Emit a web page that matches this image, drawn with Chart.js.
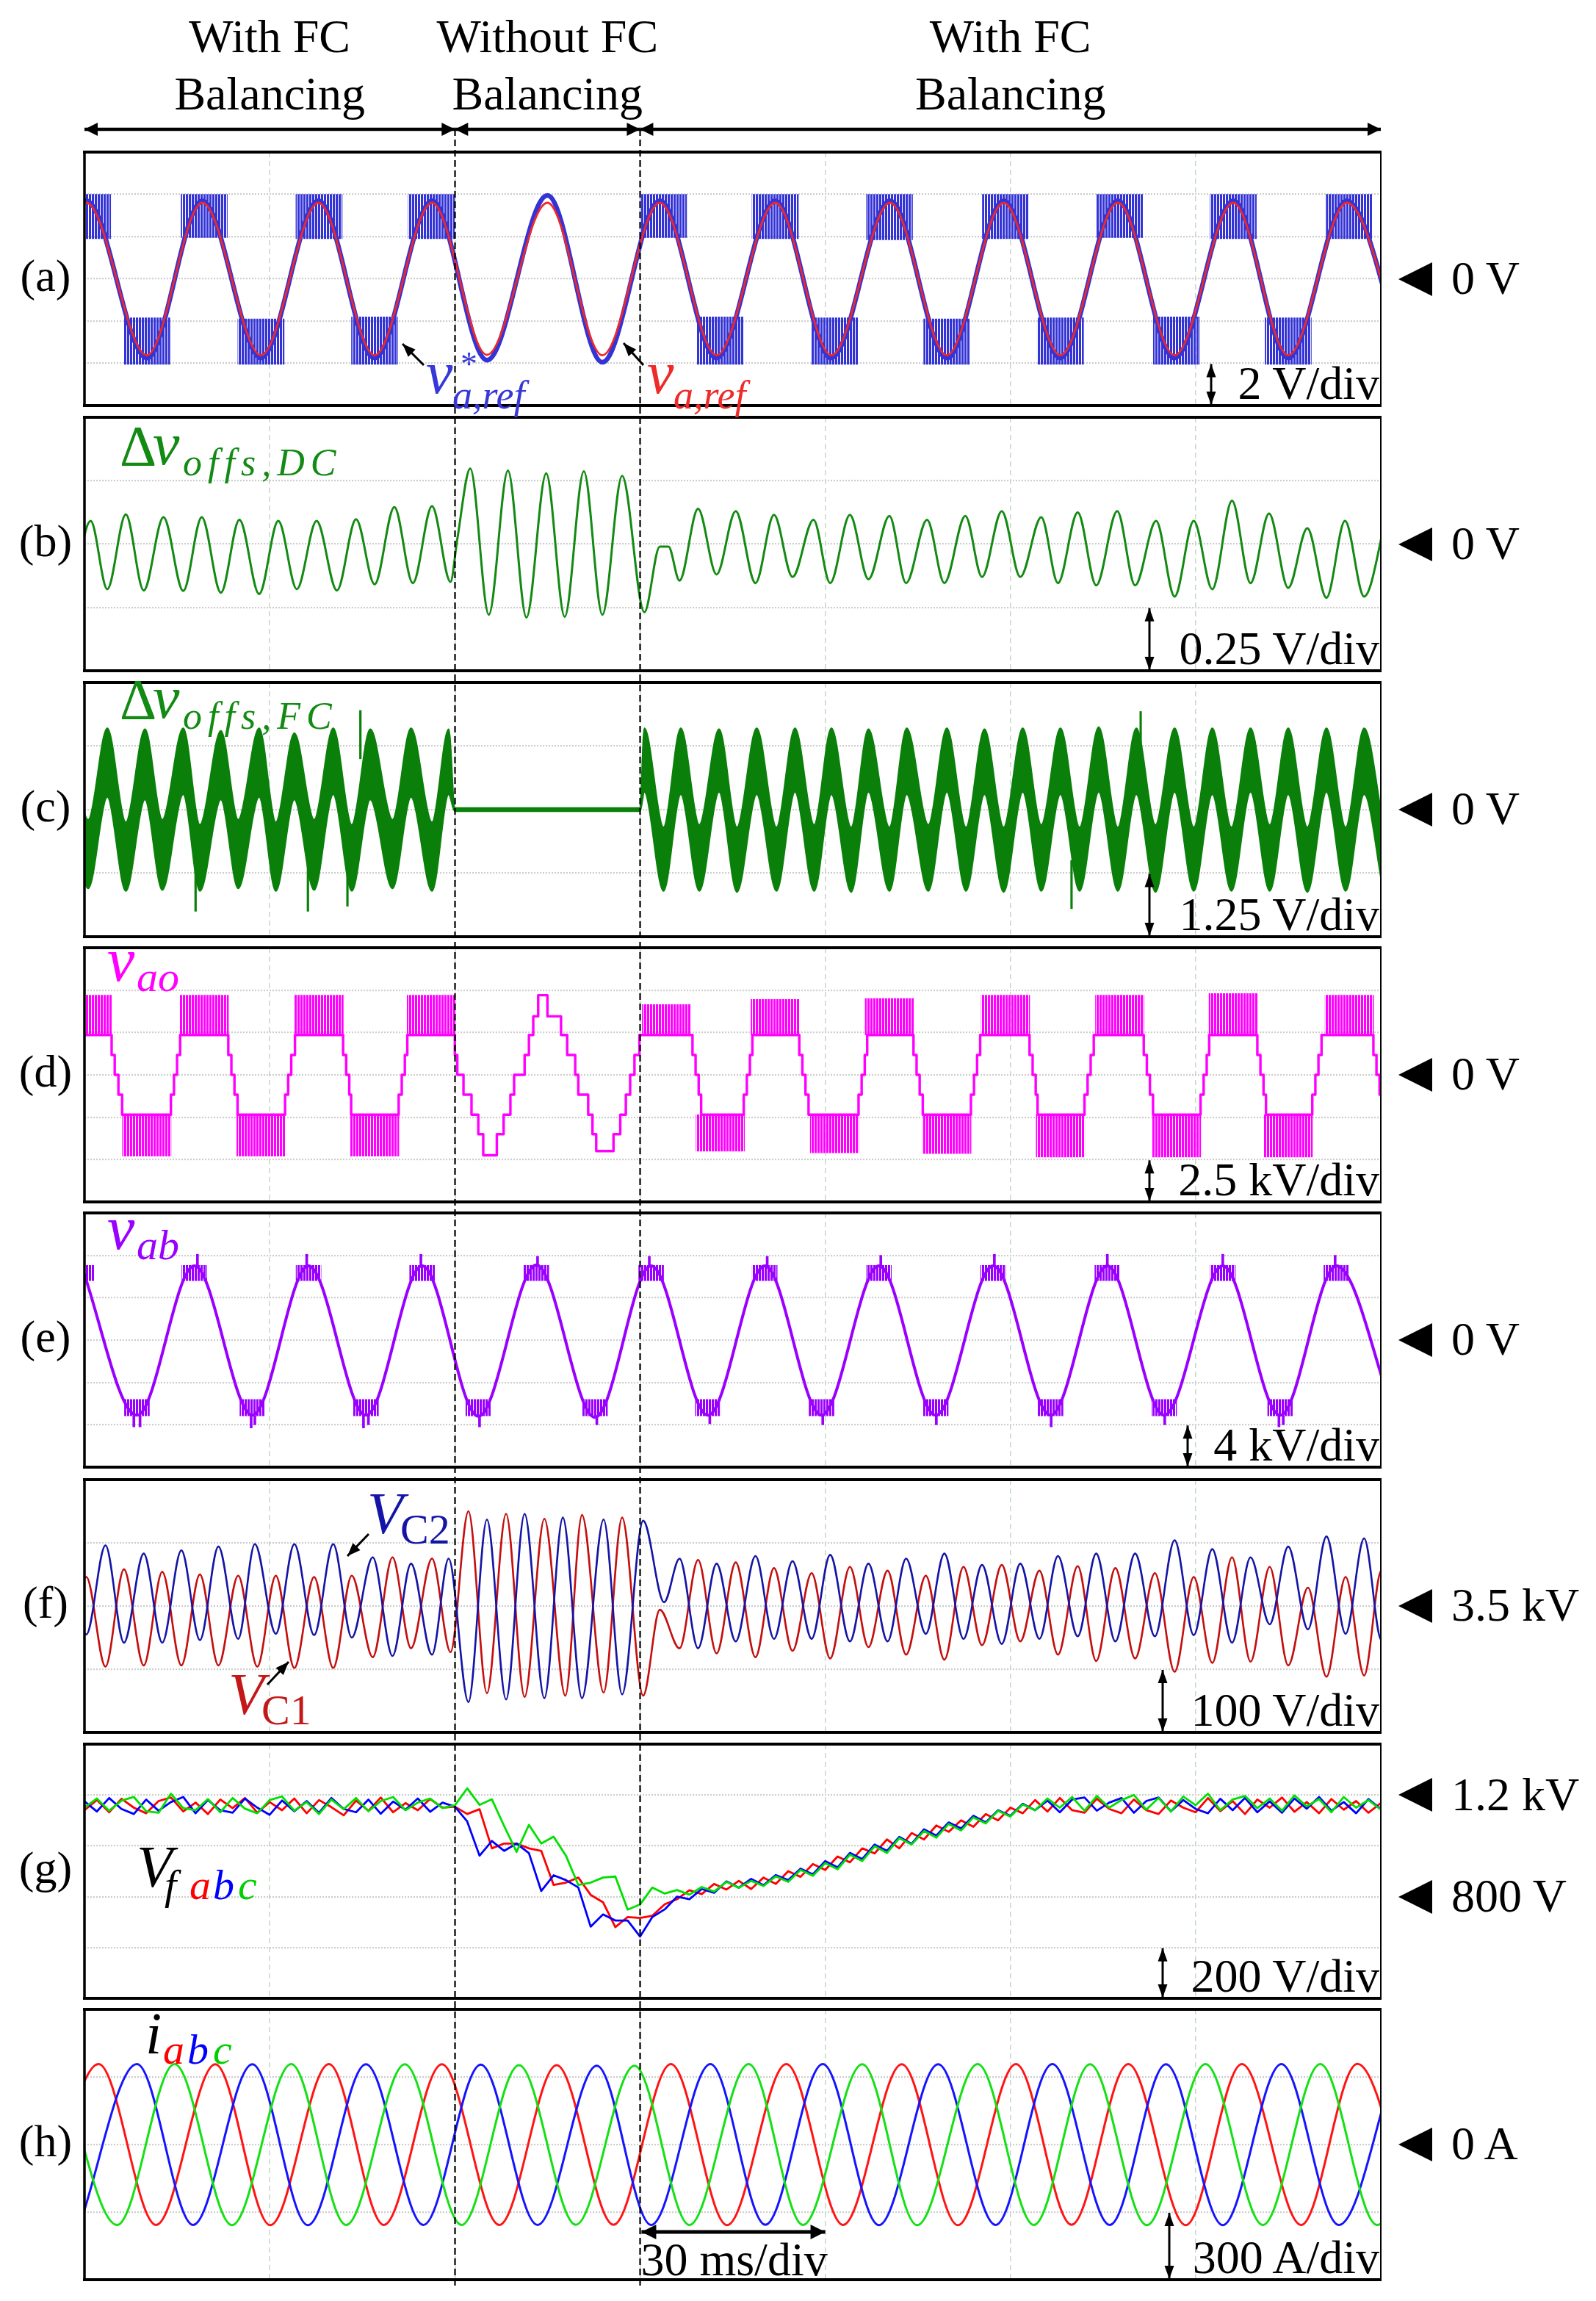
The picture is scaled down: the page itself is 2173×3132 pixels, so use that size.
<!DOCTYPE html>
<html><head><meta charset="utf-8"><title>FC balancing waveforms</title>
<script src="https://cdn.jsdelivr.net/npm/chart.js@4.4.1/dist/chart.umd.min.js"></script>
<style>
html,body{margin:0;padding:0;background:#fff;}
#page{position:relative;width:2173px;height:3132px;overflow:hidden;background:#fff;font-family:"Liberation Serif","Times New Roman",serif;}
#page canvas{position:absolute;}
.t{position:absolute;white-space:nowrap;line-height:1;z-index:6;}
.tri{position:absolute;width:0;height:0;border-right:46px solid #000;border-top:23px solid transparent;border-bottom:23px solid transparent;z-index:6;}
</style></head><body><div id="page"></div>
<script>
// ================= DATA (times in ms, 30 ms/div) =================
const timeRange = [0, 210];
const timeStep = 30;
const modeBounds = [0, 60, 90, 210];
const modeNames = [['With FC', 'Balancing'], ['Without FC', 'Balancing'], ['With FC', 'Balancing']];

// (a) v_a,ref (red) and v*_a,ref (blue) extremes [V]
const aRefT = [-9.0, 0.3, 10.1, 19.1, 28.6, 37.9, 47.0, 56.3, 65.2, 75.0, 83.9, 93.2, 102.4, 111.9, 121.0, 130.5, 139.7, 148.9, 158.1, 167.4, 176.6, 186.1, 195.0, 204.5, 213.8];
const aRefV = [-3.6, 3.6, -3.62, 3.6, -3.62, 3.6, -3.62, 3.6, -3.6, 3.6, -3.62, 3.6, -3.62, 3.6, -3.62, 3.6, -3.62, 3.6, -3.62, 3.6, -3.62, 3.6, -3.62, 3.6, -3.62];
const aStarV = [-3.7, 3.7, -3.75, 3.7, -3.75, 3.7, -3.75, 3.7, -3.85, 3.95, -3.95, 3.7, -3.75, 3.7, -3.75, 3.7, -3.75, 3.7, -3.75, 3.7, -3.75, 3.7, -3.75, 3.7, -3.75];
// switching bands of v*_a,ref
const aBandT = [0.5, 10.1, 19.4, 28.6, 38.0, 47.0, 56.2, 93.8, 103.0, 111.9, 121.5, 130.4, 139.7, 149.2, 158.1, 167.7, 176.9, 186.1, 195.0, 204.9];
const aBandLo = [1.9, -4.05, 1.95, -4.05, 1.9, -4.05, 1.9, 1.95, -4.05, 1.9, -4.05, 1.85, -4.05, 1.9, -4.05, 1.95, -4.05, 1.9, -4.05, 1.9];
const aBandHi = [4.0, -1.85, 4.0, -1.9, 4.0, -1.8, 4.0, 4.0, -1.8, 4.0, -1.85, 4.0, -1.9, 4.0, -1.85, 4.0, -1.8, 4.0, -1.85, 4.0];

// (b) Δv_offs,DC extremes [V]
const bT = [-1.8, 1.0, 3.7, 6.7, 9.6, 12.8, 16.0, 19.0, 22.1, 25.1, 28.3, 31.4, 34.4, 37.6, 40.9, 44.0, 47.0, 50.2, 53.2, 56.3, 59.3, 60.4, 62.5, 65.5, 68.6, 71.6, 74.8, 77.8, 80.9, 83.9, 87.1, 90.7, 93.2, 94.6, 96.4, 99.4, 102.4, 105.5, 108.7, 111.7, 114.7, 118.1, 120.8, 124.0, 127.0, 130.4, 133.1, 136.5, 139.3, 142.7, 145.4, 148.6, 151.6, 155.0, 157.7, 160.9, 163.9, 167.3, 170.2, 173.6, 176.6, 179.7, 182.7, 185.9, 188.9, 191.9, 195.0, 198.1, 201.2, 204.2, 207.3, 211.0];
const bV = [-0.17, 0.091, -0.178, 0.117, -0.183, 0.106, -0.185, 0.106, -0.192, 0.096, -0.197, 0.091, -0.178, 0.091, -0.183, 0.098, -0.159, 0.146, -0.154, 0.149, -0.149, 0.02, 0.298, -0.279, 0.290, -0.290, 0.279, -0.287, 0.287, -0.279, 0.269, -0.269, -0.01, -0.01, -0.144, 0.139, -0.120, 0.130, -0.154, 0.115, -0.130, 0.096, -0.154, 0.115, -0.139, 0.111, -0.154, 0.096, -0.154, 0.111, -0.130, 0.130, -0.130, 0.106, -0.154, 0.125, -0.163, 0.130, -0.163, 0.091, -0.207, 0.091, -0.178, 0.171, -0.154, 0.120, -0.173, 0.062, -0.212, 0.091, -0.207, 0.12];

// (c) Δv_offs,FC envelope (upper / lower edge of the switching band) [V]
const cT = [-2.4, 0.6, 3.7, 6.7, 9.8, 12.6, 16.0, 18.7, 22.1, 24.9, 28.3, 31.0, 34.0, 37.2, 40.3, 43.3, 46.3, 49.9, 52.9, 56.3, 59.0, 60.0, 90.0, 90.7, 93.8, 96.6, 99.6, 102.8, 105.7, 108.9, 112.1, 115.1, 118.2, 121.0, 124.2, 127.0, 130.4, 133.2, 136.7, 139.7, 142.8, 145.8, 148.9, 152.0, 155.0, 158.1, 161.2, 164.3, 167.4, 170.4, 173.5, 176.6, 179.7, 182.7, 185.8, 188.9, 192.0, 195.0, 198.1, 201.2, 204.3, 207.3, 210.4];
const cUpper = [1.55, -0.2, 1.6, -0.25, 1.58, -0.2, 1.6, -0.3, 1.55, -0.2, 1.6, -0.25, 1.5, -0.2, 1.6, -0.3, 1.58, -0.2, 1.6, -0.25, 1.58,
  0.03, 0.03,
  1.6, -0.35, 1.6, -0.3, 1.58, -0.35, 1.6, -0.35, 1.6, -0.3, 1.6, -0.35, 1.58, -0.35, 1.6, -0.3, 1.6, -0.35, 1.58, -0.35, 1.6, -0.3, 1.6, -0.35, 1.62, -0.35, 1.6, -0.3, 1.6, -0.35, 1.6, -0.35, 1.6, -0.3, 1.6, -0.35, 1.6, -0.35, 1.6, -0.3];
const cLower = [0.2, -1.55, 0.25, -1.6, 0.2, -1.58, 0.3, -1.6, 0.2, -1.55, 0.25, -1.6, 0.2, -1.58, 0.3, -1.6, 0.2, -1.55, 0.25, -1.6, 0.3,
  -0.03, -0.03,
  0.35, -1.6, 0.3, -1.6, 0.35, -1.62, 0.3, -1.6, 0.35, -1.6, 0.3, -1.62, 0.35, -1.6, 0.3, -1.6, 0.35, -1.6, 0.3, -1.62, 0.35, -1.6, 0.3, -1.6, 0.35, -1.6, 0.3, -1.62, 0.35, -1.6, 0.3, -1.6, 0.35, -1.6, 0.3, -1.62, 0.35, -1.6, 0.3, -1.6];
const cSpikeT = [18.0, 36.2, 42.6, 44.7, 159.9, 171.1];
const cSpikeLo = [-2.0, -2.0, -1.9, 1.0, -1.95, 1.0];
const cSpikeHi = [-1.0, -1.0, -1.0, 1.95, -1.0, 1.93];

// (d) v_ao level sequence [kV] (stepped) and dense switching bands
const dT = [0, 4.4, 4.9, 5.5, 6.1, 14.0, 14.5, 15.0, 15.5, 23.3, 23.8, 24.3, 24.8, 32.5, 33.0, 33.5, 34.1, 41.9, 42.4, 42.9, 43.2, 50.9, 51.4, 51.9, 52.3,
  60.0, 60.4, 61.4, 62.7, 63.8, 64.6, 66.8, 67.9, 69.0, 69.6, 71.3, 72.0, 72.7, 73.5, 75.0, 77.2, 78.2, 79.5, 80.0, 81.6, 82.3, 82.9, 85.7, 86.8, 87.7, 88.4, 89.1, 89.9,
  98.5, 99.0, 99.5, 99.9, 106.8, 107.3, 107.8, 108.2, 115.8, 116.3, 116.8, 117.3, 125.4, 125.9, 126.4, 126.8, 134.3, 134.8, 135.3, 135.8, 143.6, 144.1, 144.6, 145.1,
  153.1, 153.6, 154.1, 154.4, 162.0, 162.5, 163.0, 163.5, 171.6, 172.1, 172.6, 173.1, 180.8, 181.3, 181.8, 182.2, 190.0, 190.5, 191.0, 191.4, 198.9, 199.4, 199.9, 200.4, 208.8, 209.3, 209.8, 210.3];
const dV = [2.35, 1.17, 0, -1.17, -2.35, -1.17, 0, 1.17, 2.35, 1.17, 0, -1.17, -2.35, -1.17, 0, 1.17, 2.35, 1.17, 0, -1.17, -2.35, -1.17, 0, 1.17, 2.35,
  1.17, 0, -1.17, -2.35, -3.5, -4.75, -3.5, -2.35, -1.17, 0, 1.17, 2.35, 3.45, 4.7, 3.45, 2.35, 1.17, 0, -1.17, -2.35, -3.5, -4.5, -3.5, -2.35, -1.17, 0, 1.17, 2.35,
  1.17, 0, -1.17, -2.35, -1.17, 0, 1.17, 2.35, 1.17, 0, -1.17, -2.35, -1.17, 0, 1.17, 2.35, 1.17, 0, -1.17, -2.35, -1.17, 0, 1.17, 2.35,
  1.17, 0, -1.17, -2.35, -1.17, 0, 1.17, 2.35, 1.17, 0, -1.17, -2.35, -1.17, 0, 1.17, 2.35, 1.17, 0, -1.17, -2.35, -1.17, 0, 1.17, 2.35, 1.17, 0, -1.17, -2.35];
const dBandT = [0.5, 10.1, 19.4, 28.6, 38.0, 47.0, 56.2, 94.3, 103.0, 111.9, 121.5, 130.4, 139.7, 149.2, 158.1, 167.7, 176.9, 186.1, 195.0, 204.9];
const dBandLo = [2.35, -4.8, 2.35, -4.8, 2.35, -4.8, 2.35, 2.35, -4.5, 2.35, -4.6, 2.35, -4.65, 2.35, -4.85, 2.35, -4.85, 2.35, -4.85, 2.35];
const dBandHi = [4.7, -2.35, 4.7, -2.35, 4.7, -2.35, 4.7, 4.15, -2.35, 4.45, -2.35, 4.5, -2.35, 4.7, -2.35, 4.7, -2.35, 4.8, -2.35, 4.7];

// (e) v_ab extremes [kV], plateau switching and spikes
const eT = [-0.5, 8.5, 17.8, 27.2, 36.3, 45.6, 54.7, 63.8, 73.2, 82.7, 91.8, 101.0, 110.2, 119.4, 128.7, 137.9, 147.2, 156.5, 165.7, 174.9, 184.4, 193.7, 202.8, 212.2];
const eV = [7.0, -7.1, 7.0, -7.1, 7.0, -7.1, 7.0, -7.2, 7.1, -7.3, 7.0, -7.1, 7.0, -7.1, 7.0, -7.1, 7.0, -7.1, 7.0, -7.1, 7.0, -7.1, 7.0, -7.1];
const eBandT = [-0.5, 8.5, 17.8, 27.2, 36.3, 45.6, 54.7, 63.8, 73.2, 82.7, 91.8, 101.0, 110.2, 119.4, 128.7, 137.9, 147.2, 156.5, 165.7, 174.9, 184.4, 193.7, 202.8];
const eBandLo = [5.6, -7.15, 5.6, -7.15, 5.6, -7.15, 5.6, -7.15, 5.6, -7.15, 5.6, -7.15, 5.6, -7.15, 5.6, -7.15, 5.6, -7.15, 5.6, -7.15, 5.6, -7.15, 5.6];
const eBandHi = [7.05, -5.6, 7.05, -5.6, 7.05, -5.6, 7.05, -5.6, 7.05, -5.6, 7.05, -5.6, 7.05, -5.6, 7.05, -5.6, 7.05, -5.6, 7.05, -5.6, 7.05, -5.6, 7.05];
const eSpikeT = [8.0, 9.0, 18.3, 27.0, 27.6, 36.0, 45.2, 46.0, 54.5, 64.0, 73.4, 83.0, 91.5, 101.3, 110.6, 119.6, 129.0, 138.0, 147.4, 156.6, 165.7, 175.0, 184.4, 193.5, 194.2, 202.6];
const eSpikeLo = [-8.2, -8.2, 7.05, -8.3, -8.0, 7.05, -8.3, -8.0, 7.05, -8.2, 7.05, -8.0, 7.05, -7.9, 7.05, -8.0, 7.05, -8.0, 7.05, -8.2, 7.05, -8.0, 7.05, -8.2, -8.0, 7.05];
const eSpikeHi = [-7.15, -7.15, 8.1, -7.15, -7.15, 8.1, -7.15, -7.15, 8.1, -7.15, 7.9, -7.15, 7.9, -7.15, 7.9, -7.15, 8.0, -7.15, 8.1, -7.15, 8.1, -7.15, 8.1, -7.15, -7.15, 8.0];

// (f) V_C1 (red) and V_C2 (blue) extremes [V]
const c2T = [-2.8, 0.3, 3.4, 6.4, 9.6, 12.6, 15.7, 18.7, 21.7, 24.9, 27.6, 31.0, 34.0, 37.2, 40.3, 43.3, 46.7, 49.9, 52.9, 56.3, 59.0, 62.2, 65.2, 68.3, 71.3, 74.5, 77.5, 80.6, 84.1, 87.1, 90.5, 93.9, 96.4, 99.4, 102.4, 105.5, 108.7, 111.7, 114.7, 117.8, 120.8, 124.0, 127.0, 130.1, 133.1, 136.3, 139.3, 142.4, 145.4, 148.6, 151.6, 154.7, 157.7, 160.9, 163.9, 167.0, 170.2, 173.4, 176.6, 179.7, 182.7, 185.9, 188.9, 192.0, 195.0, 198.2, 201.2, 204.3, 207.3, 210.1, 213.2];
const c2V = [3590, 3455, 3596, 3442, 3583, 3442, 3588, 3446, 3594, 3448, 3598, 3456, 3598, 3454, 3598, 3450, 3577, 3421, 3567, 3423, 3575, 3348, 3637, 3352, 3646, 3354, 3640, 3354, 3637, 3360, 3635, 3506, 3575, 3433, 3567, 3444, 3579, 3448, 3571, 3448, 3581, 3444, 3567, 3444, 3575, 3456, 3583, 3448, 3565, 3440, 3567, 3448, 3579, 3452, 3583, 3444, 3583, 3452, 3604, 3454, 3590, 3442, 3577, 3471, 3594, 3463, 3610, 3456, 3607, 3446, 3600];
const c1T = [-2.8, 0.3, 3.4, 6.4, 9.6, 12.6, 15.7, 18.7, 21.7, 24.9, 28.0, 31.0, 34.0, 37.2, 40.3, 43.3, 46.7, 49.9, 52.9, 56.3, 59.3, 62.2, 65.2, 68.3, 71.3, 74.5, 77.9, 80.6, 84.1, 87.1, 90.5, 93.2, 96.4, 99.4, 102.4, 105.5, 108.7, 111.7, 114.7, 117.8, 120.8, 124.0, 127.0, 130.1, 133.1, 136.3, 139.3, 142.4, 145.4, 148.6, 151.6, 154.7, 157.7, 160.9, 163.9, 167.0, 170.2, 173.4, 176.6, 179.7, 182.7, 185.9, 188.9, 192.0, 195.0, 198.2, 201.2, 204.3, 207.3, 210.1, 213.2];
const c1V = [3410, 3546, 3404, 3558, 3406, 3554, 3406, 3550, 3406, 3548, 3404, 3548, 3402, 3546, 3402, 3548, 3419, 3577, 3433, 3575, 3427, 3650, 3362, 3646, 3356, 3638, 3358, 3644, 3363, 3640, 3358, 3494, 3433, 3573, 3425, 3569, 3419, 3560, 3429, 3552, 3417, 3562, 3435, 3556, 3423, 3548, 3415, 3562, 3438, 3565, 3444, 3556, 3423, 3563, 3413, 3560, 3417, 3552, 3396, 3546, 3410, 3577, 3412, 3562, 3406, 3529, 3388, 3546, 3390, 3556, 3400];

// (g) V_f a/b/c sampled every 2 ms [V]
const gT = [0,2,4,6,8,10,12,14,16,18,20,22,24,26,28,30,32,34,36,38,40,42,44,46,48,50,52,54,56,58,60,62,64,66,68,70,72,74,76,78,80,82,84,86,88,90,92,94,96,98,100,102,104,106,108,110,112,114,116,118,120,122,124,126,128,130,132,134,136,138,140,142,144,146,148,150,152,154,156,158,160,162,164,166,168,170,172,174,176,178,180,182,184,186,188,190,192,194,196,198,200,202,204,206,208,210];
const gA = [1140, 1180, 1132, 1185, 1150, 1128, 1176, 1190, 1135, 1170, 1125, 1182, 1148, 1188, 1130, 1172, 1140, 1186, 1128, 1180, 1152, 1120, 1178, 1138, 1190, 1132, 1168, 1140, 1184, 1150,
  1154, 1125, 1144, 990, 1009, 1009, 990, 980, 846, 855, 875, 807, 778, 680, 720, 716,
  725, 770, 790, 825, 810, 850, 828, 862, 830, 875, 850, 900, 878, 928, 905, 958, 935, 990, 970, 1025, 990, 1050, 1025, 1080, 1055, 1100, 1075, 1125, 1100, 1150,
  1128, 1180, 1135, 1188, 1140, 1130, 1185, 1145, 1128, 1182, 1140, 1125, 1178, 1150, 1132, 1188, 1136, 1176, 1125, 1182, 1150, 1190, 1134, 1172, 1128, 1184, 1142, 1176, 1130, 1168];
const gB = [1175, 1135, 1188, 1145, 1125, 1182, 1138, 1172, 1192, 1128, 1180, 1140, 1130, 1186, 1150, 1122, 1178, 1136, 1176, 1130, 1188, 1145, 1132, 1182, 1126, 1174, 1142, 1186, 1134, 1170,
  1154, 1096, 961, 1019, 980, 1009, 971, 822, 884, 865, 836, 682, 730, 706, 706, 643,
  720, 750, 800, 790, 830, 815, 860, 835, 870, 845, 885, 865, 910, 888, 940, 915, 972, 948, 1005, 980, 1035, 1008, 1065, 1040, 1092, 1068, 1118, 1092, 1140, 1118,
  1165, 1140, 1178, 1132, 1182, 1190, 1138, 1170, 1188, 1130, 1176, 1190, 1136, 1180, 1145, 1128, 1185, 1140, 1188, 1132, 1175, 1130, 1186, 1146, 1192, 1138, 1172, 1128, 1184, 1145];
const gC = [1150, 1186, 1138, 1178, 1192, 1136, 1130, 1205, 1148, 1140, 1184, 1132, 1188, 1146, 1128, 1180, 1194, 1138, 1172, 1125, 1182, 1144, 1188, 1136, 1176, 1192, 1140, 1170, 1186, 1148,
  1159, 1226, 1161, 1183, 1077, 976, 1082, 1009, 1036, 961, 846, 855, 875, 879, 749, 769,
  836, 812, 826, 808, 838, 820, 858, 835, 862, 842, 880, 858, 905, 882, 932, 908, 965, 940, 998, 972, 1030, 1005, 1058, 1032, 1086, 1060, 1112, 1088, 1138, 1115,
  1162, 1140, 1186, 1150, 1192, 1138, 1196, 1150, 1180, 1200, 1142, 1188, 1135, 1194, 1160, 1205, 1140, 1182, 1196, 1148, 1186, 1138, 1198, 1155, 1184, 1132, 1192, 1150, 1180, 1142];

// (h) i_a, i_b, i_c extremes [A]
const hAT = [-7.0, 2.3, 11.6, 21.2, 30.1, 39.6, 48.5, 57.9, 67.2, 76.5, 85.7, 95.0, 104.1, 113.7, 122.9, 132.4, 141.5, 150.9, 159.9, 169.1, 178.4, 187.5, 197.1, 206.2, 215.5];
const hAV = [-357, 357, -357, 356, -358, 357, -357, 356, -357, 352, -356, 357, -358, 357, -357, 356, -358, 357, -356, 357, -358, 357, -357, 358, -357];
const hBT = [-0.8, 8.5, 17.6, 27.2, 36.2, 45.6, 54.9, 64.2, 73.4, 83.0, 91.8, 101.4, 110.3, 119.6, 128.7, 138.3, 147.6, 156.8, 166.1, 175.2, 184.4, 193.9, 203.2, 212.4];
const hBV = [-357, 357, -357, 356, -358, 356, -357, 355, -357, 350, -357, 357, -356, 357, -358, 356, -357, 357, -357, 356, -358, 357, -357, 357];
const hCT = [-4.0, 5.3, 14.6, 23.9, 33.5, 42.4, 51.9, 61.1, 70.4, 79.6, 89.1, 98.0, 107.6, 116.4, 126.0, 134.9, 144.7, 153.8, 162.9, 172.1, 181.6, 190.9, 200.2, 209.4, 218.7];
const hCV = [357, -357, 357, -358, 357, -357, 356, -357, 352, -356, 350, -357, 357, -357, 356, -358, 357, -357, 356, -358, 357, -357, 357, -357, 357];

// vertical scales [min, max, per division] and marker levels
const yScales = { a:[-6, 6, 2], b:[-0.5, 0.5, 0.25], c:[-2.5, 2.5, 1.25], d:[-7.5, 7.5, 2.5], e:[-12, 12, 4], f:[3300, 3700, 100], g:[400, 1400, 200], h:[-600, 600, 300] };
const divLabels = { a:'2 V/div', b:'0.25 V/div', c:'1.25 V/div', d:'2.5 kV/div', e:'4 kV/div', f:'100 V/div', g:'200 V/div', h:'300 A/div' };
const markerPanels = ['a', 'b', 'c', 'd', 'e', 'f', 'g', 'g', 'h'];
const markerValues = [0, 0, 0, 0, 0, 3500, 1200, 800, 0];
const markerTexts = ['0 V', '0 V', '0 V', '0 V', '0 V', '3.5 kV', '1.2 kV', '800 V', '0 A'];
const panelNames = ['(a)', '(b)', '(c)', '(d)', '(e)', '(f)', '(g)', '(h)'];

// ================= LAYOUT / STYLE =================
const page = document.getElementById('page');
const PANEL_LEFT = 115, PANEL_W = 1765, PAD = 6;
const layout = { a:{top:207,h:345}, b:{top:568,h:345}, c:{top:929,h:346}, d:{top:1290,h:346}, e:{top:1651,h:346}, f:{top:2014,h:344}, g:{top:2374,h:346}, h:{top:2735,h:368} };
const divArrowX = { a:1649, b:1565, c:1565, d:1565, e:1617, f:1583, g:1583, h:1592 };

const pts = (ts, vs) => ts.map((t, i) => ({x: t, y: vs[i]}));
const rng = (ts, lo, hi) => ts.map((t, i) => ({x: t, y: [lo[i], hi[i]]}));

function stripes(fg, period, gap) {
  const c = document.createElement('canvas'); c.width = period; c.height = 4;
  const g = c.getContext('2d'); g.fillStyle = fg; g.fillRect(0, 0, period - gap, 4);
  return document.createElement('canvas').getContext('2d').createPattern(c, 'repeat');
}
function line(data, color, width, extra) {
  return Object.assign({type:'line', data, borderColor:color, borderWidth:width, pointRadius:0, fill:false,
    cubicInterpolationMode:'monotone', capBezierPoints:false, clip:0, borderJoinStyle:'round'}, extra || {});
}
function bar(data, fill, thickness, extra) {
  return Object.assign({type:'bar', data, backgroundColor:fill, borderWidth:0, barThickness:thickness, stack:'s', clip:0}, extra || {});
}

const framePlugin = {
  id:'frame',
  afterDatasetsDraw(chart) {
    const {ctx, chartArea:a} = chart;
    ctx.save(); ctx.strokeStyle = '#000';
    ctx.lineWidth = 4; ctx.beginPath();
    ctx.moveTo(a.left - 2, a.top); ctx.lineTo(a.right + 1, a.top);
    ctx.moveTo(a.left - 2, a.bottom); ctx.lineTo(a.right + 1, a.bottom); ctx.stroke();
    ctx.lineWidth = 3.5; ctx.beginPath(); ctx.moveTo(a.left, a.top); ctx.lineTo(a.left, a.bottom); ctx.stroke();
    ctx.lineWidth = 2; ctx.beginPath(); ctx.moveTo(a.right, a.top); ctx.lineTo(a.right, a.bottom); ctx.stroke();
    ctx.restore();
  }
};

const charts = {};
function makeChart(key, datasets) {
  const L = layout[key], ys = yScales[key];
  const cv = document.createElement('canvas');
  cv.width = PANEL_W + 2 * PAD; cv.height = L.h + 2 * PAD;
  cv.style.left = (PANEL_LEFT - PAD) + 'px'; cv.style.top = (L.top - PAD) + 'px';
  cv.style.width = cv.width + 'px'; cv.style.height = cv.height + 'px';
  page.appendChild(cv);
  charts[key] = new Chart(cv.getContext('2d'), {
    type:'line',
    data:{datasets},
    options:{
      responsive:false, animation:false, devicePixelRatio:1, events:[],
      layout:{padding:PAD},
      plugins:{legend:{display:false}, tooltip:{enabled:false}},
      scales:{
        x:{type:'linear', min:timeRange[0], max:timeRange[1], offset:false,
           ticks:{display:false, stepSize:timeStep}, grid:{drawTicks:false, color:'#c5d9c5', lineWidth:1.5, offset:false},
           border:{display:false, dash:[7, 5]}},
        y:{type:'linear', min:ys[0], max:ys[1], stacked:false,
           ticks:{display:false, stepSize:ys[2]}, grid:{drawTicks:false, color:'#cdcdcd', lineWidth:2.2},
           border:{display:false, dash:[2, 2]}}
      }
    },
    plugins:[framePlugin]
  });
}

// ================= CHARTS =================
makeChart('a', [
  line(pts(aRefT, aRefV), '#f02828', 2.8, {order:1}),
  line(pts(aRefT, aStarV), '#3434d6', 6.5, {order:2}),
  bar(rng(aBandT, aBandLo, aBandHi), stripes('#3434d6', 4, 1), 63, {order:3})
]);
makeChart('b', [ line(pts(bT, bV), '#148a14', 3) ]);
makeChart('c', [
  line(pts(cT, cUpper), '#0a800a', 2.2, {order:2}),
  line(pts(cT, cLower), '#0a800a', 2.2, {order:1, fill:'-1', backgroundColor:'#0a800a'}),
  bar(rng(cSpikeT, cSpikeLo, cSpikeHi), '#0a800a', 2.5, {order:3})
]);
makeChart('d', [
  line(pts(dT, dV), '#ff00ff', 3.4, {order:1, stepped:true, cubicInterpolationMode:'default'}),
  bar(rng(dBandT, dBandLo, dBandHi), stripes('#ff00ff', 4, 1), 66, {order:2})
]);
makeChart('e', [
  line(pts(eT, eV), '#9a00ff', 4, {order:1}),
  bar(rng(eBandT, eBandLo, eBandHi), stripes('#9a00ff', 4, 1), 34, {order:2}),
  bar(rng(eSpikeT, eSpikeLo, eSpikeHi), '#9a00ff', 3, {order:3})
]);
makeChart('f', [
  line(pts(c1T, c1V), '#c40f0f', 2.6, {order:2}),
  line(pts(c2T, c2V), '#1414a6', 2.6, {order:1})
]);
makeChart('g', [
  line(pts(gT, gA), '#ff0000', 2.8, {order:3, cubicInterpolationMode:'default', tension:0}),
  line(pts(gT, gB), '#0000ff', 2.8, {order:2, cubicInterpolationMode:'default', tension:0}),
  line(pts(gT, gC), '#00e000', 2.8, {order:1, cubicInterpolationMode:'default', tension:0})
]);
makeChart('h', [
  line(pts(hAT, hAV), '#ff1414', 3, {order:3}),
  line(pts(hBT, hBV), '#1414ff', 3, {order:2}),
  line(pts(hCT, hCV), '#14e014', 3, {order:1})
]);

// ================= OVERLAY (arrows, mode lines) =================
const px = (key, t) => (PANEL_LEFT - PAD) + charts[key].scales.x.getPixelForValue(t);
const py = (key, v) => (layout[key].top - PAD) + charts[key].scales.y.getPixelForValue(v);

const ov = document.createElement('canvas');
ov.width = 2173; ov.height = 3132; ov.style.left = '0px'; ov.style.top = '0px'; ov.style.zIndex = 5;
page.appendChild(ov);
const g = ov.getContext('2d');
g.fillStyle = '#000'; g.strokeStyle = '#000';

function head(x1, y1, x2, y2, len, half) {
  const a = Math.atan2(y2 - y1, x2 - x1), c = Math.cos(a), s = Math.sin(a);
  g.beginPath(); g.moveTo(x2, y2);
  g.lineTo(x2 - len * c + half * s, y2 - len * s - half * c);
  g.lineTo(x2 - len * c - half * s, y2 - len * s + half * c);
  g.closePath(); g.fill();
}
function arrow(x1, y1, x2, y2, w, len, half, both) {
  g.lineWidth = w; g.beginPath(); g.moveTo(x1, y1); g.lineTo(x2, y2); g.stroke();
  head(x1, y1, x2, y2, len, half);
  if (both) head(x2, y2, x1, y1, len, half);
}

const HEAD_Y = 176;
for (let i = 0; i < 3; i++) arrow(px('a', modeBounds[i]), HEAD_Y, px('a', modeBounds[i + 1]), HEAD_Y, 4.5, 18, 9, true);
g.save(); g.lineWidth = 2.2; g.setLineDash([9, 5]);
[modeBounds[1], modeBounds[2]].forEach(t => { const x = Math.round(px('a', t)) + 0.5; g.beginPath(); g.moveTo(x, HEAD_Y); g.lineTo(x, 3112); g.stroke(); });
g.restore();
Object.keys(yScales).forEach(k => {
  const ys = yScales[k];
  arrow(divArrowX[k], py(k, ys[0] + ys[2]) + 1, divArrowX[k], py(k, ys[0]) - 1, 3, 18, 6.5, true);
});
arrow(px('h', 90) + 2, 3038, px('h', 120), 3038, 5, 20, 10, true);
arrow(577, 497, 548, 468, 3, 18, 7, false);
arrow(876, 497, 849, 467, 3, 18, 7, false);
arrow(502, 2088, 473, 2118, 3, 18, 7, false);
arrow(364, 2293, 393, 2262, 3, 18, 7, false);

// ================= TEXT =================
function txt(s, left, baseline, size, color, italic, extra) {
  const d = document.createElement('div'); d.className = 't'; d.textContent = s;
  d.style.left = left + 'px'; d.style.top = (baseline - 0.8375 * size) + 'px';
  d.style.fontSize = size + 'px'; d.style.color = color || '#000';
  if (italic) d.style.fontStyle = 'italic';
  if (extra) Object.assign(d.style, extra);
  page.appendChild(d); return d;
}
for (let i = 0; i < 3; i++) {
  const cx = (px('a', modeBounds[i]) + px('a', modeBounds[i + 1])) / 2;
  txt(modeNames[i][0], cx - 300, 72, 64, '#000', false, {width:'600px', textAlign:'center'});
  txt(modeNames[i][1], cx - 300, 150, 64, '#000', false, {width:'600px', textAlign:'center'});
}
Object.keys(yScales).forEach((k, i) => {
  const ys = yScales[k]; const cy = py(k, (ys[0] + ys[1]) / 2);
  txt(panelNames[i], 12, cy + 16, 62, '#000', false, {width:'100px', textAlign:'center'});
});
markerPanels.forEach((k, i) => {
  const y = py(k, markerValues[i]);
  const tr = document.createElement('div'); tr.className = 'tri';
  tr.style.left = '1904px'; tr.style.top = (y - 23) + 'px'; page.appendChild(tr);
  txt(markerTexts[i], 1976, y + 21, 64, '#000', false);
});
Object.keys(divLabels).forEach(k => {
  const ys = yScales[k];
  txt(divLabels[k], 0, py(k, ys[0]) - 8, 64, '#000', false, {left:'auto', right:(2173 - 1878) + 'px'});
});
txt('30 ms/div', px('h', 90) + 1, 3098, 64, '#000', false);

const BL = '#3838d8', RD = '#ee2a2a', GR = '#138a13';
txt('v', 580, 536, 82, BL, true);
txt('*', 627, 512, 46, BL, false);
txt('a,ref', 616, 556, 54, BL, true);
txt('v', 881, 536, 82, RD, true);
txt('a,ref', 917, 556, 54, RD, true);
txt('Δ', 163, 633, 78, GR, false);
txt('v', 208, 633, 82, GR, true);
txt('offs,DC', 249, 648, 52, GR, true, {letterSpacing:'8px'});
txt('Δ', 163, 978, 78, GR, false);
txt('v', 208, 978, 82, GR, true);
txt('offs,FC', 249, 993, 52, GR, true, {letterSpacing:'8px'});
txt('v', 146, 1335, 84, '#ff00ff', true);
txt('ao', 186, 1350, 58, '#ff00ff', true);
txt('v', 146, 1700, 84, '#9a00ff', true);
txt('ab', 186, 1715, 58, '#9a00ff', true);
txt('V', 500, 2087, 80, '#1414a6', true);
txt('C2', 545, 2102, 58, '#1414a6', false);
txt('V', 311, 2333, 80, '#c41818', true);
txt('C1', 356, 2348, 58, '#c41818', false);
txt('V', 186, 2568, 80, '#000', true);
txt('f', 224, 2586, 58, '#000', true);
txt('a', 258, 2586, 58, '#ff0000', true);
txt('b', 290, 2586, 58, '#0000ff', true);
txt('c', 324, 2586, 58, '#00d000', true);
txt('i', 198, 2795, 80, '#000', true);
txt('a', 222, 2810, 58, '#ff0000', true);
txt('b', 255, 2810, 58, '#0000ff', true);
txt('c', 290, 2810, 58, '#00d000', true);
</script></body></html>
